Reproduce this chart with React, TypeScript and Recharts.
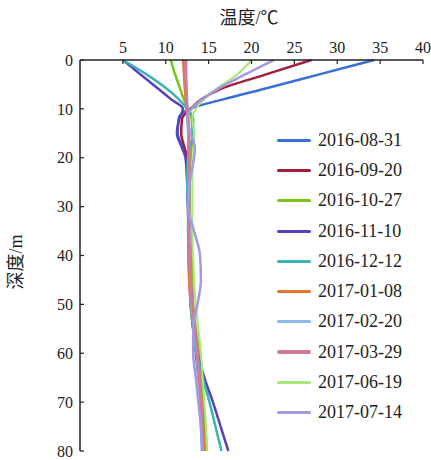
import { LineChart, Line, XAxis, YAxis } from "recharts"

const depths = [0, 3, 6, 8, 10, 12, 15, 18, 20, 25, 30, 35, 40, 45, 50, 55, 60, 65, 70, 75, 80]

const s20160831 = [34.3, 27.8, 21.3, 16.8, 12.8, 11.5, 11.4, 12.0, 12.4, 12.5, 12.6, 12.7, 12.8, 12.9, 13.0, 13.2, 13.5, 13.8, 14.1, 14.4, 14.6]
const s20160920 = [27.0, 21.6, 16.3, 14.2, 12.9, 11.9, 11.8, 12.2, 12.5, 12.6, 12.6, 12.7, 12.7, 12.8, 12.9, 13.2, 13.6, 13.9, 14.1, 14.3, 14.4]
const s20161027 = [10.6, 11.1, 11.7, 12.1, 12.6, 13.0, 13.1, 13.0, 12.9, 12.8, 12.8, 12.9, 13.0, 13.1, 13.2, 13.5, 13.9, 14.2, 14.4, 14.6, 14.8]
const s20161110 = [5.0, 7.1, 9.2, 10.6, 12.0, 11.6, 11.3, 11.9, 12.3, 12.5, 12.6, 12.7, 12.8, 12.9, 13.0, 13.3, 13.7, 14.5, 15.5, 16.4, 17.3]
const s20161212 = [5.0, 7.8, 10.2, 11.5, 12.5, 13.2, 13.2, 12.8, 12.6, 12.5, 12.6, 12.6, 12.7, 12.8, 12.9, 13.2, 13.6, 14.3, 15.1, 15.8, 16.5]
const s20170108 = [12.0, 12.1, 12.2, 12.3, 12.4, 12.5, 12.6, 12.6, 12.6, 12.6, 12.6, 12.6, 12.6, 12.7, 12.9, 13.3, 13.7, 14.0, 14.2, 14.4, 14.5]
const s20170220 = [12.4, 12.4, 12.4, 12.5, 12.5, 12.6, 12.6, 12.7, 12.7, 12.7, 12.7, 12.8, 12.8, 12.9, 13.0, 13.3, 13.6, 13.8, 14.0, 14.1, 14.2]
const s20170329 = [12.3, 12.3, 12.4, 12.4, 12.5, 12.6, 12.7, 12.7, 12.7, 12.7, 12.7, 12.7, 12.8, 12.9, 13.1, 13.4, 13.7, 13.9, 14.1, 14.2, 14.3]
const s20170619 = [20.0, 18.3, 15.8, 14.5, 13.5, 13.1, 13.3, 13.3, 13.2, 13.1, 13.1, 13.1, 13.2, 13.3, 13.5, 13.8, 14.1, 14.3, 14.5, 14.7, 14.8]
const s20170714 = [22.6, 19.2, 16.0, 14.3, 13.0, 12.5, 12.9, 13.4, 13.3, 12.8, 12.6, 13.3, 14.0, 14.1, 13.7, 13.2, 13.2, 13.5, 13.8, 14.1, 14.3]

const tempTicks = [5, 10, 15, 20, 25, 30, 35, 40]
const depthTicks = [0, 10, 20, 30, 40, 50, 60, 70, 80]

const series = [
  { name: "2016-08-31", values: s20160831, color: "#3a6fd6", width: 2.5 },
  { name: "2016-09-20", values: s20160920, color: "#a21f3c", width: 2.5 },
  { name: "2016-10-27", values: s20161027, color: "#7cc41c", width: 2.5 },
  { name: "2016-11-10", values: s20161110, color: "#5a3fbf", width: 2.5 },
  { name: "2016-12-12", values: s20161212, color: "#3db3b3", width: 2.5 },
  { name: "2017-01-08", values: s20170108, color: "#e0782e", width: 2 },
  { name: "2017-02-20", values: s20170220, color: "#8cb8ea", width: 2.5 },
  { name: "2017-03-29", values: s20170329, color: "#d07a9a", width: 3 },
  { name: "2017-06-19", values: s20170619, color: "#a6e87a", width: 2 },
  { name: "2017-07-14", values: s20170714, color: "#a29ae2", width: 2.5 },
]

const data = depths.map((depth, i) => {
  const row: Record<string, number> = { depth }
  series.forEach((s) => { row[s.name] = s.values[i] })
  return row
})

const font = "'Liberation Serif', 'Times New Roman', 'Noto Sans CJK SC', serif"
const tickStyle = { fontFamily: font, fontSize: 16, fill: "#222" }

function LegendBox() {
  return (
    <div style={{ position: "absolute", top: 125, left: 277, fontFamily: font }}>
      {series.map((s) => (
        <div key={s.name} style={{ display: "flex", alignItems: "center", height: 30.3 }}>
          <div style={{ width: 34, height: s.width + 0.5, background: s.color, marginRight: 7, borderRadius: 2 }} />
          <span style={{ fontSize: 18, color: "#222" }}>{s.name}</span>
        </div>
      ))}
    </div>
  )
}

export default function App() {
  // absolute at the page corner so the 8px body margin adds no scroll height
  return (
    <div style={{ width: 431, height: 460, position: "absolute", top: 0, left: 0 }}>
      <LineChart
        width={431}
        height={460}
        data={data}
        layout="vertical"
        margin={{ top: 30, right: 8, bottom: 9, left: 40 }}
        style={{ overflow: "visible" }}
      >
        <XAxis
          type="number"
          orientation="top"
          domain={[0, 40]}
          ticks={tempTicks}
          height={30}
          tickSize={-4}
          tickMargin={11}
          tick={tickStyle}
          interval={0}
          axisLine={{ stroke: "#222", strokeWidth: 1.5 }}
          tickLine={{ stroke: "#222", strokeWidth: 1.2 }}
          label={{
            content: () => (
              <text x={249} y={24} textAnchor="middle" style={{ fontFamily: font, fontSize: 18, fill: "#222" }}>
                温度/℃
              </text>
            ),
          }}
        />
        <YAxis
          type="number"
          dataKey="depth"
          domain={[0, 80]}
          ticks={depthTicks}
          width={40}
          tickSize={-4}
          tickMargin={11}
          tick={tickStyle}
          interval={0}
          axisLine={{ stroke: "#222", strokeWidth: 1.5 }}
          tickLine={{ stroke: "#222", strokeWidth: 1.2 }}
          label={{
            content: () => (
              <text x={22} y={262} transform="rotate(-90 22 262)" textAnchor="middle" style={{ fontFamily: font, fontSize: 18, fill: "#222" }}>
                深度/m
              </text>
            ),
          }}
        />
        {series.map((s) => (
          <Line
            key={s.name}
            type="monotone"
            dataKey={s.name}
            stroke={s.color}
            strokeWidth={s.width}
            dot={false}
            isAnimationActive={false}
          />
        ))}
      </LineChart>
      <LegendBox />
    </div>
  )
}
